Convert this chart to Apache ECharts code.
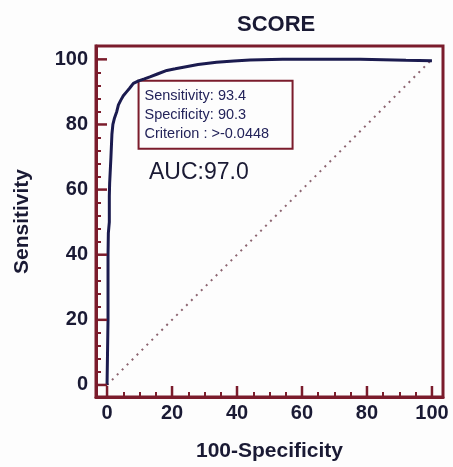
<!DOCTYPE html>
<html>
<head>
<meta charset="utf-8">
<script src="https://cdn.jsdelivr.net/npm/echarts@6/dist/echarts.min.js"></script>
<style>
html,body{margin:0;padding:0;background:#fdfdfd;}
#c{width:453px;height:467px;}
</style>
</head>
<body>
<div id="c"></div>
<script>
// ---- data ----
const chartTitle = 'SCORE';
const xAxisName = '100-Specificity';
const yAxisName = 'Sensitivity';
const xTickLabels = [0, 20, 40, 60, 80, 100];
const yTickLabels = [0, 20, 40, 60, 80, 100];
const rocX = [0, 0.3, 0.3, 0.3, 0.4, 0.7, 0.7, 0.8, 1.0, 1.2, 1.5, 1.8, 2.3, 3.0, 3.5, 4.2, 5.0, 6.0, 7.0, 8.1, 9.7, 11.5, 13.2, 15.5, 18.4, 21.0, 23.5, 28.0, 33.7, 39.0, 44.0, 54.0, 62.0, 69.5, 78.0, 85.0, 92.0, 100];
const rocY = [0, 0.5, 20, 40, 46.6, 50, 58, 62, 66, 70, 77, 80, 82, 84, 86, 87.4, 88.8, 90, 91.2, 92.6, 93.4, 94.0, 94.6, 95.5, 96.6, 97.1, 97.6, 98.4, 99.1, 99.5, 99.8, 100, 100, 100, 100, 99.9, 99.7, 99.6];
const refX = [0, 100];
const refY = [0, 100];
const cutoff = { x: 9.7, y: 93.4 };
const boxLines = ['Sensitivity: 93.4', 'Specificity: 90.3', 'Criterion : >-0.0448'];
const aucText = 'AUC:97.0';
const aucPos = { x: 12.9, y: 65.3 };

// ---- styles ----
const frame = '#7b1c2c';
const ink = '#1a1a34';
const curve = '#1b1b4f';
const font = 'Liberation Sans, Arial, sans-serif';

const minorX = [];
for (let v = 5; v < 100; v += 5) if (v % 20) minorX.push(v);
const minorY = [];
for (let v = 4; v < 100; v += 4) if (v % 20) minorY.push(v);

const xRange = { min: -3.4, max: 103.4 };
const yRange = { min: -3.7, max: 104.1 };

function tickAxis(range, pos, values, len) {
  return {
    type: 'value', min: range.min, max: range.max, position: pos,
    axisLine: { show: false, onZero: false },
    axisTick: { show: true, inside: true, length: len, lineStyle: { color: frame, width: 2 }, customValues: values.slice() },
    axisLabel: { show: false, customValues: values.slice() },
    splitLine: { show: false }
  };
}

// major ticks drawn through the axes' scales
function majorTicks(values, dim) {
  return {
    type: 'custom', silent: true, clip: false, z: 5,
    xAxisIndex: 0, yAxisIndex: 0,
    data: values.map(v => [v]),
    renderItem: function (params, api) {
      const v = api.value(0);
      let p1, p2;
      if (dim === 'x') {
        const p = api.coord([v, yRange.min]);
        p1 = [p[0], p[1]]; p2 = [p[0], p[1] - 11];
      } else {
        const p = api.coord([xRange.min, v]);
        p1 = [p[0], p[1]]; p2 = [p[0] + 11, p[1]];
      }
      return {
        type: 'line',
        shape: { x1: p1[0], y1: p1[1], x2: p2[0], y2: p2[1] },
        style: { stroke: frame, lineWidth: 2.5 }
      };
    }
  };
}

const chart = echarts.init(document.getElementById('c'), null, { renderer: 'canvas' });

const option = {
  animation: false,
  backgroundColor: '#fdfdfd',
  title: {
    text: chartTitle,
    left: 232, top: 9,
    textStyle: { fontFamily: font, fontSize: 22, fontWeight: 'bold', color: ink }
  },
  grid: {
    left: 96, right: 10, top: 46, bottom: 70,
    show: true, borderColor: frame, borderWidth: 3, backgroundColor: 'transparent'
  },
  xAxis: [
    {
      type: 'value', min: xRange.min, max: xRange.max, position: 'bottom',
      name: xAxisName, nameLocation: 'middle', nameGap: 44,
      nameTextStyle: { fontFamily: font, fontSize: 21, fontWeight: 'bold', color: ink },
      axisLine: { show: true, onZero: false, lineStyle: { color: frame, width: 3 } },
      axisTick: { show: false },
      axisLabel: { show: true, margin: 6, fontFamily: font, fontSize: 20, fontWeight: 'bold', color: ink, customValues: xTickLabels.slice() },
      splitLine: { show: false }
    },
    tickAxis(xRange, 'bottom', minorX, 5)
  ],
  yAxis: [
    {
      type: 'value', min: yRange.min, max: yRange.max, position: 'left',
      name: yAxisName, nameLocation: 'middle', nameGap: 63, nameRotate: 90,
      nameTextStyle: { fontFamily: font, fontSize: 21, fontWeight: 'bold', color: ink },
      axisLine: { show: true, onZero: false, lineStyle: { color: frame, width: 3 } },
      axisTick: { show: false },
      axisLabel: { show: true, margin: 8, fontFamily: font, fontSize: 20, fontWeight: 'bold', color: ink, customValues: yTickLabels.slice() },
      splitLine: { show: false }
    },
    tickAxis(yRange, 'left', minorY, 5)
  ],
  series: [
    majorTicks(xTickLabels, 'x'),
    majorTicks(yTickLabels, 'y'),
    {
      type: 'line', name: 'reference', xAxisIndex: 0, yAxisIndex: 0,
      data: refX.map((x, i) => [x, refY[i]]),
      showSymbol: false, silent: true,
      lineStyle: { color: '#8c6470', width: 2, type: [2, 5] }
    },
    {
      type: 'line', name: 'ROC', xAxisIndex: 0, yAxisIndex: 0,
      data: rocX.map((x, i) => [x, rocY[i]]),
      showSymbol: false, silent: true,
      lineStyle: { color: curve, width: 3 }
    }
  ]
};
chart.setOption(option);

// annotations anchored to data coordinates
const p = chart.convertToPixel({ xAxisIndex: 0, yAxisIndex: 0 }, [cutoff.x, cutoff.y]);
const a = chart.convertToPixel({ xAxisIndex: 0, yAxisIndex: 0 }, [aucPos.x, aucPos.y]);
chart.setOption({
  graphic: [
    {
      type: 'group', x: p[0], y: p[1],
      children: [
        { type: 'rect', shape: { x: 0, y: 0, width: 154, height: 68 },
          style: { fill: '#fdfdfd', stroke: frame, lineWidth: 2 } },
        ...boxLines.map((t, i) => ({
          type: 'text', x: 6, y: 15 + i * 19,
          style: { text: t, font: '14.5px ' + font, fill: '#23235a', textVerticalAlign: 'middle' }
        }))
      ]
    },
    {
      type: 'text', x: a[0], y: a[1],
      style: { text: aucText, font: '23px ' + font, fill: ink, textVerticalAlign: 'middle' }
    }
  ]
});
</script>
</body>
</html>
